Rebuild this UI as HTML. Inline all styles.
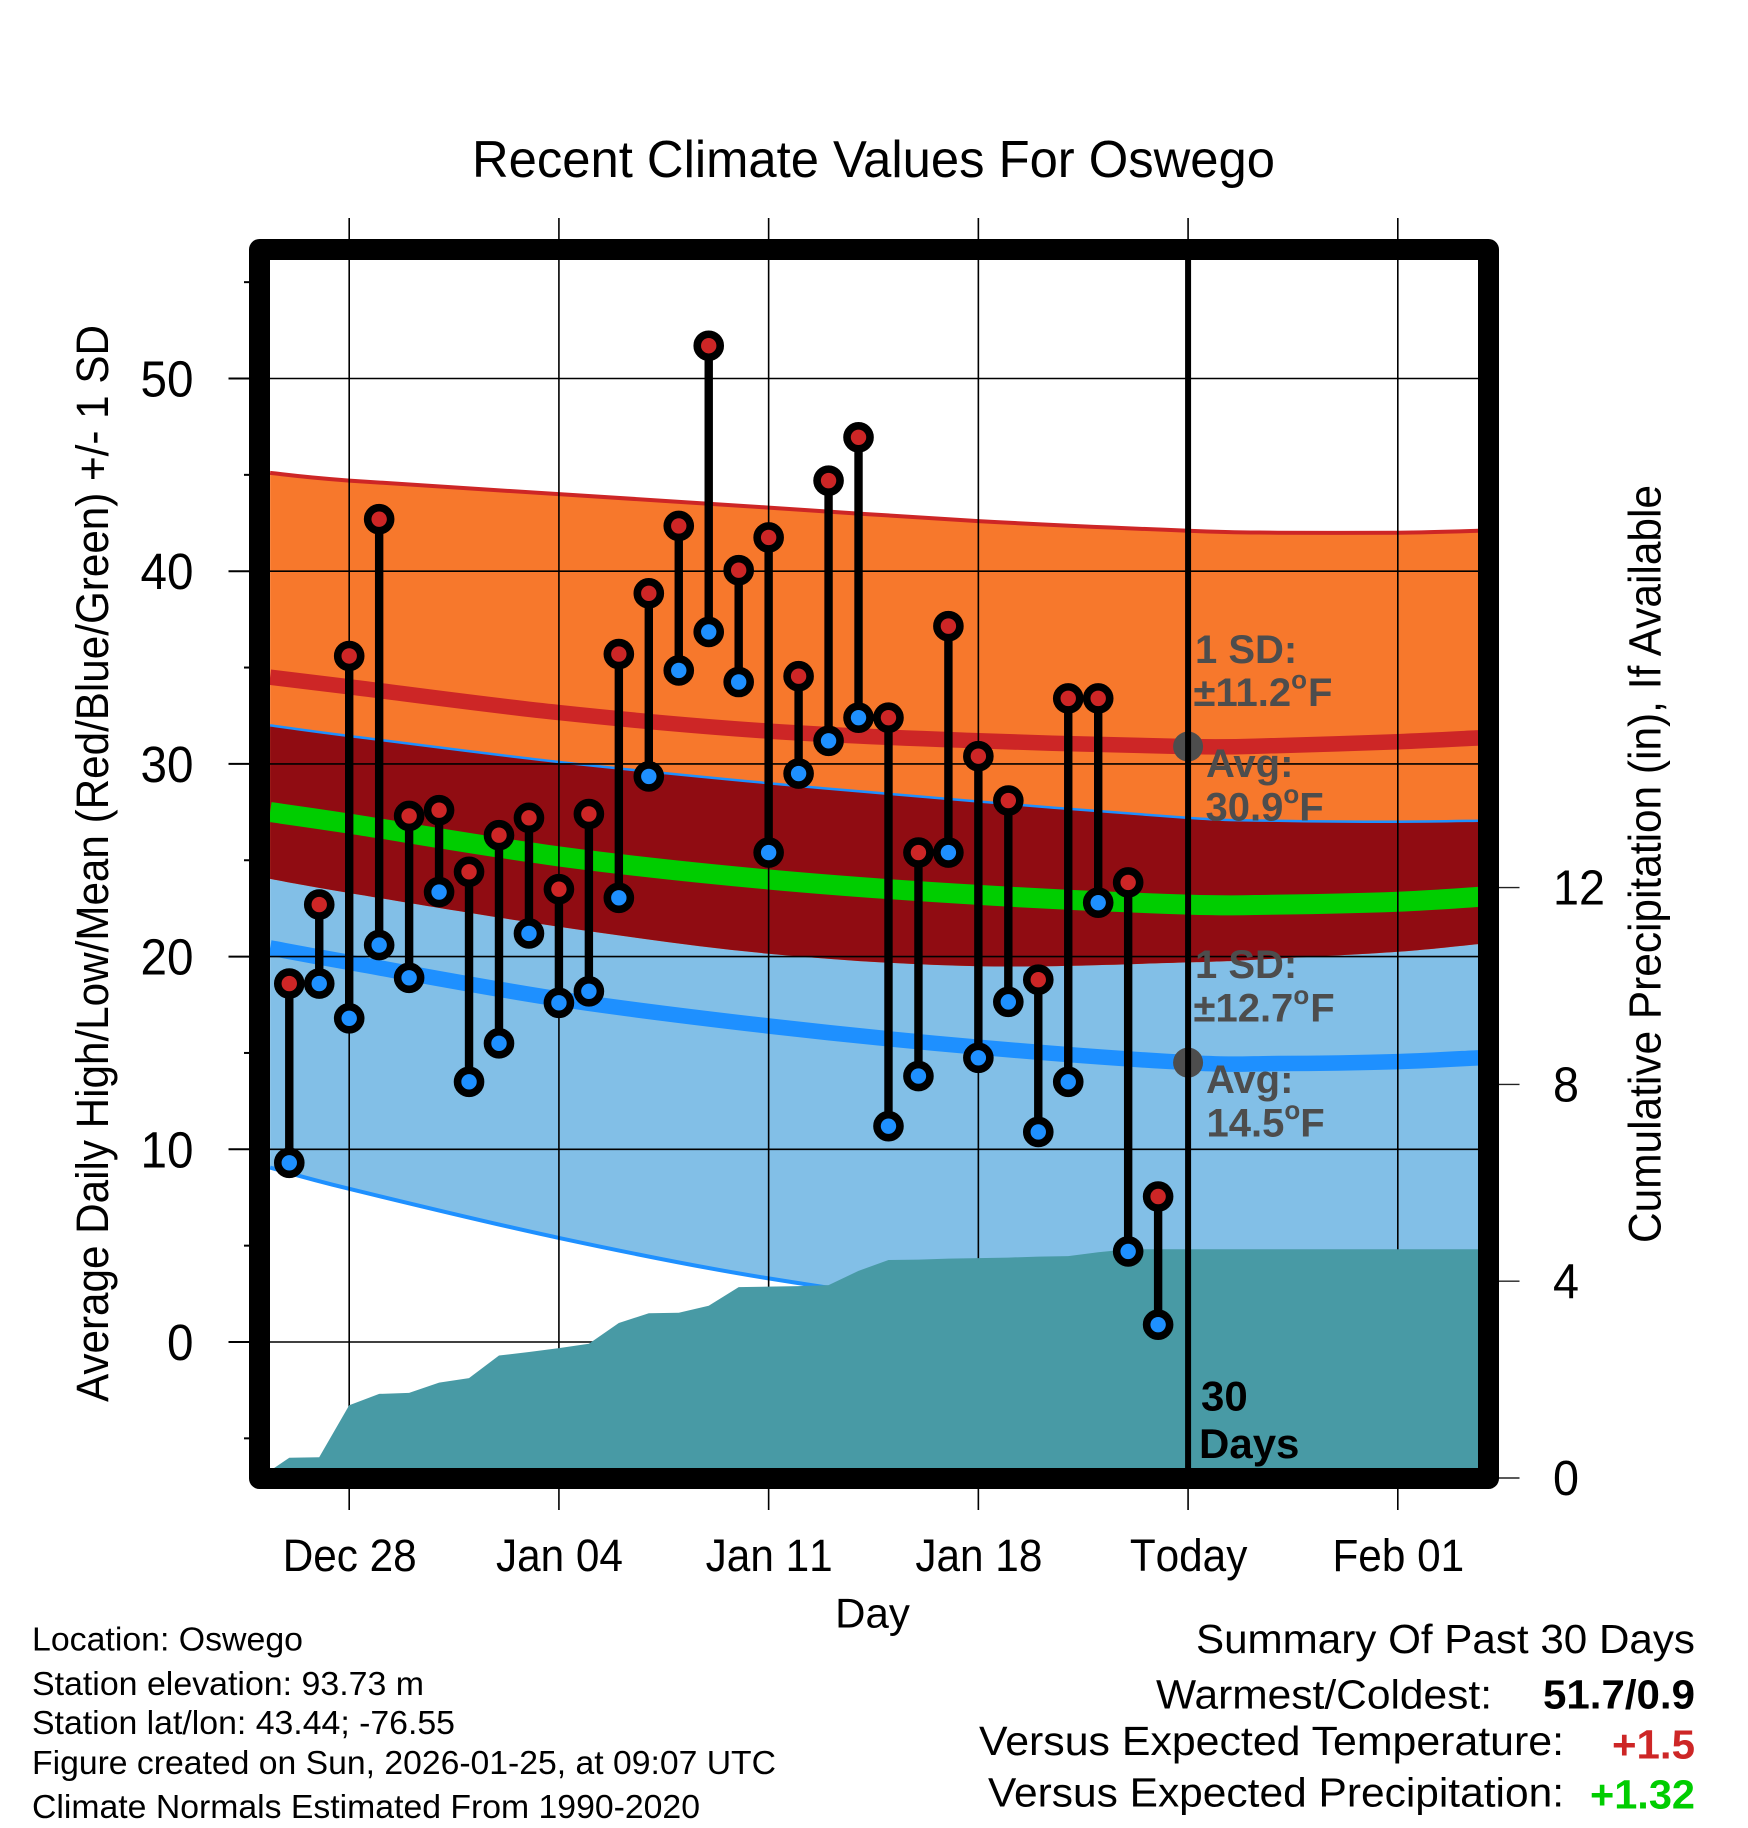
<!DOCTYPE html>
<html>
<head>
<meta charset="utf-8">
<title>Recent Climate Values For Oswego</title>
<style>
html,body{margin:0;padding:0;background:#fff;}
svg{display:block;}
text{font-family:"Liberation Sans",sans-serif;fill:#000;}
.b{font-weight:bold;}
.g{font-weight:bold;fill:#4d4d4d;font-size:40px;}
</style>
</head>
<body>
<svg id="chart" xmlns="http://www.w3.org/2000/svg" width="1748" height="1828" viewBox="0 0 1748 1828">
<defs><clipPath id="plotClip"><rect x="270" y="260" width="1208" height="1208"/></clipPath></defs>
<rect x="0" y="0" width="1748" height="1828" fill="#fff"/>
<g id="axesLayer"></g>
<g id="plotLayer" clip-path="url(#plotClip)"></g>
<rect x="259.5" y="249.5" width="1229" height="1229" fill="none" stroke="#000" stroke-width="21" stroke-linejoin="round"/>
<g id="labelLayer"></g>

<text x="472" y="177" font-size="52" textLength="803" lengthAdjust="spacingAndGlyphs">Recent Climate Values For Oswego</text>
<text transform="translate(108,1402) rotate(-90)" font-size="45" textLength="1077" lengthAdjust="spacingAndGlyphs">Average Daily High/Low/Mean (Red/Blue/Green) +/- 1 SD</text>
<text transform="translate(1660.5,1243) rotate(-90)" font-size="45" textLength="758" lengthAdjust="spacingAndGlyphs">Cumulative Precipitation (in), If Available</text>
<text x="872.5" y="1627.5" font-size="42" text-anchor="middle">Day</text>

<text x="32" y="1650.5" font-size="33" textLength="271" lengthAdjust="spacingAndGlyphs">Location: Oswego</text>
<text x="32" y="1695" font-size="33" textLength="392" lengthAdjust="spacingAndGlyphs">Station elevation: 93.73 m</text>
<text x="32" y="1734" font-size="33" textLength="423" lengthAdjust="spacingAndGlyphs">Station lat/lon: 43.44; -76.55</text>
<text x="32" y="1774" font-size="33" textLength="744" lengthAdjust="spacingAndGlyphs">Figure created on Sun, 2026-01-25, at 09:07 UTC</text>
<text x="32" y="1818" font-size="33" textLength="668" lengthAdjust="spacingAndGlyphs">Climate Normals Estimated From 1990-2020</text>

<text x="1196" y="1653" font-size="41" textLength="499" lengthAdjust="spacingAndGlyphs">Summary Of Past 30 Days</text>
<text x="1156" y="1708.5" font-size="41" textLength="336" lengthAdjust="spacingAndGlyphs">Warmest/Coldest:</text>
<text class="b" x="1543" y="1708.5" font-size="41" textLength="152" lengthAdjust="spacingAndGlyphs">51.7/0.9</text>
<text x="979" y="1755" font-size="41" textLength="585" lengthAdjust="spacingAndGlyphs">Versus Expected Temperature:</text>
<text class="b" x="1612" y="1758.5" font-size="41" textLength="83" lengthAdjust="spacingAndGlyphs" style="fill:#cd2626">+1.5</text>
<text x="988" y="1806.5" font-size="41" textLength="576" lengthAdjust="spacingAndGlyphs">Versus Expected Precipitation:</text>
<text class="b" x="1590" y="1808.5" font-size="41" textLength="105" lengthAdjust="spacingAndGlyphs" style="fill:#00cd00">+1.32</text>

<g id="annotationLayer">
<text class="g" x="1195" y="663">1 SD:</text>
<text class="g" x="1193.5" y="706">±11.2<tspan dy="-17.5" font-size="26">o</tspan><tspan dy="17.5" dx="1">F</tspan></text>
<text class="g" x="1206" y="777">Avg:</text>
<text class="g" x="1205.5" y="820.5">30.9<tspan dy="-17.5" font-size="26">o</tspan><tspan dy="17.5">F</tspan></text>
<text class="g" x="1195" y="978">1 SD:</text>
<text class="g" x="1193.5" y="1021.5">±12.7<tspan dy="-17.5" font-size="26">o</tspan><tspan dy="17.5" dx="1">F</tspan></text>
<text class="g" x="1206" y="1093">Avg:</text>
<text class="g" x="1206.5" y="1136.5">14.5<tspan dy="-17.5" font-size="26">o</tspan><tspan dy="17.5">F</tspan></text>
<text class="b" x="1201" y="1410.5" font-size="42">30</text>
<text class="b" x="1199" y="1458" font-size="42">Days</text>
</g>
<g id="markLayer"></g>

<script>
// Categories: observed days
const dayLabels = ['Dec 26','Dec 27','Dec 28','Dec 29','Dec 30','Dec 31','Jan 01','Jan 02','Jan 03','Jan 04','Jan 05','Jan 06','Jan 07','Jan 08','Jan 09','Jan 10','Jan 11','Jan 12','Jan 13','Jan 14','Jan 15','Jan 16','Jan 17','Jan 18','Jan 19','Jan 20','Jan 21','Jan 22','Jan 23','Jan 24'];
const dayOffsets = [-2,-1,0,1,2,3,4,5,6,7,8,9,10,11,12,13,14,15,16,17,18,19,20,21,22,23,24,25,26,27];
const dailyHigh = [18.6,22.7,35.6,42.7,27.3,27.6,24.4,26.3,27.2,23.5,27.4,35.7,38.85,42.35,51.7,40.05,41.75,34.55,44.7,46.95,32.4,25.4,37.15,30.4,28.1,18.8,33.4,33.4,23.85,7.55];
const dailyLow = [9.3,18.6,16.8,20.6,18.9,23.35,13.5,15.5,21.2,17.6,18.2,23.05,29.35,34.85,36.85,34.25,25.4,29.5,31.2,32.4,11.2,13.8,25.4,14.75,17.65,10.9,13.5,22.8,4.7,0.9];

// Climate normals, day offsets counted from Dec 28
const normalDays = [-2.64,0,7,14,21,28,31,35,37.7];
const highUpper = [45.1,44.7,44.0,43.3,42.6,42.1,42.0,42.0,42.1];
const highAvg = [34.5,34.0,32.66,31.7,31.2,30.9,30.95,31.15,31.35];
const highLower = [24.03,23.3,21.55,20.15,19.5,19.7,19.9,20.25,20.65];
const meanAvg = [27.5,26.9,25.2,24.0,23.2,22.7,22.7,22.85,23.1];
const lowUpper = [32.0,31.45,30.1,29.0,28.05,27.2,27.05,27.0,27.05];
const lowAvg = [20.45,19.7,17.8,16.4,15.3,14.5,14.45,14.55,14.75];
const lowLower = [9.05,7.95,5.4,3.3,1.9,1.8,1.8,1.9,2.1];

// Cumulative precipitation, starting Dec 25
const precipStartDay = -3;
const precipValues = [0,0.41,0.42,1.48,1.71,1.73,1.94,2.03,2.49,2.56,2.64,2.73,3.15,3.35,3.36,3.5,3.88,3.89,3.9,3.92,4.21,4.43,4.44,4.46,4.47,4.48,4.5,4.51,4.59,4.65,4.65];
const precipEndDay = 37.7;

// Axis ticks
const yTicks = [0,10,20,30,40,50];
const yMinorTicks = [-5,5,15,25,35,45,55];
const xTickDays = [0,7,14,21,28,35];
const xTickLabels = ['Dec 28','Jan 04','Jan 11','Jan 18','Today','Feb 01'];
const precipTicks = [0,4,8,12];
const todayDay = 28;
const todayAverages = [30.9,14.5];

const X = d => 349.2 + 29.96 * d;
const Y = v => 1342 - 19.27 * v;
const P = p => 1478 - 49.2 * p;

const NS = 'http://www.w3.org/2000/svg';
const plotLayer = document.getElementById('plotLayer');
const axesLayer = document.getElementById('axesLayer');
const labelLayer = document.getElementById('labelLayer');
const markLayer = document.getElementById('markLayer');

function mk(tag, parent, attrs) {
  const el = document.createElementNS(NS, tag);
  for (const k in attrs) el.setAttribute(k, attrs[k]);
  parent.appendChild(el);
  return el;
}

function curve(days, vals, forward) {
  let pts = days.map((d, i) => [X(d), Y(vals[i])]);
  if (!forward) pts = pts.slice().reverse();
  let s = '';
  for (let i = 0; i < pts.length - 1; i++) {
    const p0 = pts[Math.max(i - 1, 0)], p1 = pts[i], p2 = pts[i + 1], p3 = pts[Math.min(i + 2, pts.length - 1)];
    const c1x = p1[0] + (p2[0] - p0[0]) / 6, c1y = p1[1] + (p2[1] - p0[1]) / 6;
    const c2x = p2[0] - (p3[0] - p1[0]) / 6, c2y = p2[1] - (p3[1] - p1[1]) / 6;
    s += ' C' + c1x.toFixed(1) + ' ' + c1y.toFixed(1) + ' ' + c2x.toFixed(1) + ' ' + c2y.toFixed(1) + ' ' + p2[0].toFixed(1) + ' ' + p2[1].toFixed(1);
  }
  return { start: pts[0], d: s };
}

function bandPath(upper, lower) {
  const a = curve(normalDays, upper, true), b = curve(normalDays, lower, false);
  return 'M' + a.start[0] + ' ' + a.start[1] + a.d + ' L' + b.start[0] + ' ' + b.start[1] + b.d + ' Z';
}

function linePath(vals) {
  const a = curve(normalDays, vals, true);
  return 'M' + a.start[0] + ' ' + a.start[1] + a.d;
}

// Bands
const lowBand = mk('path', plotLayer, { d: bandPath(lowUpper, lowLower), fill: '#82bfe7' });


const highBand = mk('path', plotLayer, { d: bandPath(highUpper, highLower), fill: '#f7782c' });


const overlapBand = mk('path', plotLayer, { d: bandPath(lowUpper, highLower), fill: '#900c12' });



// Normal lines
const upperHighLine = mk('path', plotLayer, { d: linePath(highUpper), fill: 'none', stroke: '#cd2626', 'stroke-width': 4 });


const upperLowLine = mk('path', plotLayer, { d: linePath(lowUpper), fill: 'none', stroke: '#1e90ff', 'stroke-width': 2.5 });


const lowerLowLine = mk('path', plotLayer, { d: linePath(lowLower), fill: 'none', stroke: '#1e90ff', 'stroke-width': 4 });


const avgHighLine = mk('path', plotLayer, { d: linePath(highAvg), fill: 'none', stroke: '#cd2626', 'stroke-width': 15.5 });


const avgLowLine = mk('path', plotLayer, { d: linePath(lowAvg), fill: 'none', stroke: '#1e90ff', 'stroke-width': 15.5 });


const avgMeanLine = mk('path', plotLayer, { d: linePath(meanAvg), fill: 'none', stroke: '#00cd00', 'stroke-width': 20 });



// Grid
yTicks.forEach(v => {
  const g = mk('line', plotLayer, { x1: 270, x2: 1478, y1: Y(v), y2: Y(v), stroke: '#000', 'stroke-width': 1.6 });
  
  
});
xTickDays.forEach(d => {
  const g = mk('line', plotLayer, { x1: X(d), x2: X(d), y1: 260, y2: 1468, stroke: '#000', 'stroke-width': 1.6 });
  
  
});

// Precipitation
let precipD = 'M' + X(precipStartDay) + ' ' + P(0);
precipValues.forEach((p, i) => {
  precipD += ' L' + X(precipStartDay + i).toFixed(1) + ' ' + P(p).toFixed(1);
});
precipD += ' L' + X(precipEndDay).toFixed(1) + ' ' + P(precipValues[precipValues.length - 1]).toFixed(1) + ' L' + X(precipEndDay).toFixed(1) + ' ' + P(0) + ' Z';
const precipArea = mk('path', plotLayer, { d: precipD, fill: '#489aa5' });



// Today dots and line
todayAverages.forEach(v => {
  const c = mk('circle', plotLayer, { cx: X(todayDay), cy: Y(v), r: 15, fill: '#4d4d4d' });
  
  
});
const todayLine = mk('line', plotLayer, { x1: X(todayDay), x2: X(todayDay), y1: 260, y2: 1468, stroke: '#000', 'stroke-width': 6 });



// Left ticks
yTicks.forEach(v => {
  const t = mk('line', axesLayer, { x1: 228.5, x2: 252, y1: Y(v), y2: Y(v), stroke: '#000', 'stroke-width': 2 });
  
  
  const s = String(v);
  const l = mk('text', labelLayer, { x: 193.5, y: Y(v) + 18, 'font-size': 51, 'text-anchor': 'end', textLength: s.length * 26.5, lengthAdjust: 'spacingAndGlyphs' });
  l.textContent = s;
  
  
});
yMinorTicks.forEach(v => {
  const t = mk('line', axesLayer, { x1: 244, x2: 252, y1: Y(v), y2: Y(v), stroke: '#000', 'stroke-width': 2 });
  
  
});

// Top and bottom ticks
xTickDays.forEach((d, i) => {
  const top = mk('line', axesLayer, { x1: X(d), x2: X(d), y1: 218, y2: 242, stroke: '#000', 'stroke-width': 1.6 });
  
  
  const bot = mk('line', axesLayer, { x1: X(d), x2: X(d), y1: 1486, y2: 1510, stroke: '#000', 'stroke-width': 1.6 });
  
  
  const l = mk('text', labelLayer, { transform: 'translate(' + (X(d) + 0.5) + ',1571) scale(0.94,1)', 'font-size': 45, 'text-anchor': 'middle', style: 'font-kerning:none' });
  l.textContent = xTickLabels[i];
  
  
});

// Right ticks
precipTicks.forEach(p => {
  const t = mk('line', axesLayer, { x1: 1496, x2: 1519.5, y1: P(p), y2: P(p), stroke: '#222', 'stroke-width': 1.4 });
  
  
  const s = String(p);
  const l = mk('text', labelLayer, { x: 1553, y: P(p) + 17, 'font-size': 49, textLength: s.length * 26, lengthAdjust: 'spacingAndGlyphs' });
  l.textContent = s;
  
  
});

// Daily stems and markers
dayOffsets.forEach((d, i) => {
  const stem = mk('line', markLayer, { x1: X(d), x2: X(d), y1: Y(dailyHigh[i]), y2: Y(dailyLow[i]), stroke: '#000', 'stroke-width': 8.4 });
  
  
  const hi = mk('circle', markLayer, { cx: X(d), cy: Y(dailyHigh[i]), r: 11.5, fill: '#cd2626', stroke: '#000', 'stroke-width': 7.6 });
  
  
  hi.setAttribute('aria-label', dayLabels[i]);
  const lo = mk('circle', markLayer, { cx: X(d), cy: Y(dailyLow[i]), r: 11.5, fill: '#1e90ff', stroke: '#000', 'stroke-width': 7.6 });
  
  
  lo.setAttribute('aria-label', dayLabels[i]);
});
</script>
</svg>
</body>
</html>
